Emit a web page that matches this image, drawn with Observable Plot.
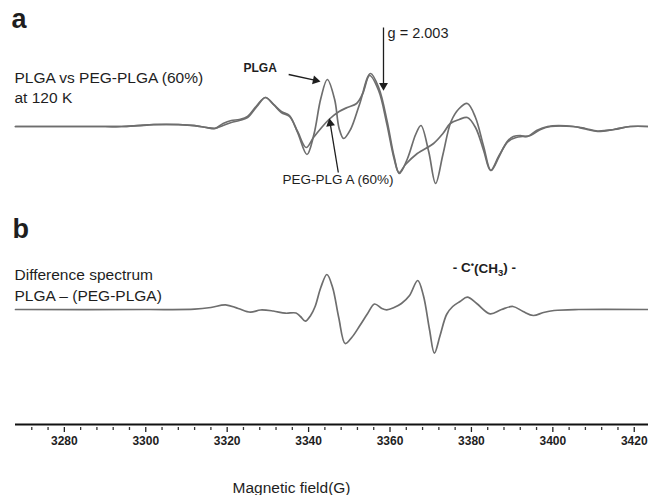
<!DOCTYPE html>
<html><head><meta charset="utf-8">
<script src="https://cdn.jsdelivr.net/npm/d3@7"></script>
<script src="https://cdn.jsdelivr.net/npm/@observablehq/plot@0.6"></script>
<style>
html,body{margin:0;padding:0;background:#fff;}
#chart{width:648px;height:495px;overflow:hidden;}
#chart svg{font-family:"Liberation Sans", Arial, Helvetica, sans-serif;}
</style></head><body><div id="chart"></div>
<script>
// ---- data (magnetic field in G, signal in arbitrary units) ----
const sharedLowField = [3268, 3290, 3294, 3298, 3302, 3308, 3312, 3315, 3317];
const sharedLowSignal = [0, 0, 0, 0.8, 1.8, 1.8, 0.8, -1, -1.8];

const plgaField = [3319, 3321, 3323, 3325, 3327.3, 3329.4, 3331.4, 3333.3, 3335.3, 3337.3, 3339.6, 3341.3, 3343, 3344.6, 3346.4, 3347.5, 3348.6, 3350.3, 3352.5, 3355.2, 3357.3, 3359.3, 3361, 3362.3, 3364.3, 3366.3, 3367.6, 3369.5, 3371.2, 3373, 3375, 3377, 3379, 3381, 3383, 3384.8, 3386.8, 3388.8, 3390.3, 3392, 3393.8, 3396, 3398.7, 3405, 3408, 3411, 3415, 3419, 3423.5];
const plgaSignal = [1, 4, 6, 9, 20, 29, 22, 15, 11, -6, -28, -8, 28, 47, 27, -2, -12, -3, 22, 53, 38, 5, -30, -47, -32, -8, 1, -25, -57, -28, 5, 18, 23, 9, -20, -44, -30, -15, -10, -9, -10, -4, 0, 0, -2.5, -5, -3, 0, 0];

const pegField = [3319, 3321, 3323, 3325, 3327.3, 3329.4, 3331.4, 3333.3, 3335.3, 3337.3, 3339.4, 3341.2, 3343, 3345, 3347.5, 3349.5, 3351.8, 3353.3, 3355, 3357.2, 3359.2, 3361, 3362.2, 3363.8, 3366.7, 3370.7, 3373, 3374.8, 3377, 3379, 3381, 3383, 3384.7, 3386.8, 3389, 3391, 3392.5, 3394.5, 3397, 3399.5, 3405, 3408, 3411, 3415, 3419, 3423.5];
const pegSignal = [3, 6, 7, 10, 21, 29, 22, 14, 10, -5, -21, -11, -2, 7, 15, 19, 23, 33, 51, 36, 3, -32, -46, -38, -27, -17, -7, 3, 7, 9, -1, -24, -44, -29, -15, -11, -10, -9, -3, 0, 0, -2, -4.5, -3, 0, 0];

const diffField = [3268, 3300, 3312, 3316, 3319.6, 3322.7, 3325.7, 3328.2, 3331.3, 3334.3, 3336.9, 3338, 3339.2, 3340.5, 3341.6, 3343, 3344.5, 3345.9, 3347.4, 3349, 3350.6, 3352.6, 3354.5, 3356.2, 3358, 3359.2, 3361, 3362.8, 3364.8, 3366.8, 3368.2, 3369.7, 3370.9, 3372.3, 3373.9, 3375.4, 3377.2, 3379, 3381.3, 3384.6, 3387.4, 3390.2, 3392.7, 3395.2, 3397.7, 3400.3, 3406.4, 3423.5];
const diffSignal = [0, 0, 0.3, 2, 4.7, 1, -2.7, -0.5, -1.5, -3.7, -3.5, -7, -11.7, -6, 3, 22, 35, 22, -8, -34, -28, -16, -4, 5.5, 1, -0.3, 2, 6, 14, 29, 14, -20, -43.7, -26, -5, 3, 8, 12.3, 6, -4.3, 0, 3, -2, -6, -3, -1, 0, 0];

const majorTicks = [3280, 3300, 3320, 3340, 3360, 3380, 3400, 3420];
const minorTicks = d3.range(3272, 3424, 4).filter(t => !majorTicks.includes(t));

// ---- layout helpers ----
const W = 648, H = 495;
const xDomain = [3268, 3423.5];
const yDomain = [-115, 309];
const offsetA = 183; // vertical offset of panel a baseline (signal units)
const marginLeft = 15, marginBottom = 71;

const toRows = (f, s, off, series) => f.map((x, i) => ({x, y: s[i] + off, series}));
const plgaRows = toRows(sharedLowField.concat(plgaField), sharedLowSignal.concat(plgaSignal), offsetA, "PLGA");
const pegRows = toRows(sharedLowField.concat(pegField), sharedLowSignal.concat(pegSignal).map((v, i) => i < sharedLowSignal.length ? v * 1.1 : v), offsetA, "PEG");
const diffRows = toRows(diffField, diffSignal, 0, "diff");

// arrows (tail -> tip) in data units
const arrows = [
  {x1: 3358.4, y1: 99 + offsetA, x2: 3358.4, y2: 36 + offsetA},
  {x1: 3335.1, y1: 52 + offsetA, x2: 3342.9, y2: 45 + offsetA},
  {x1: 3347.3, y1: -46 + offsetA, x2: 3345.1, y2: 8 + offsetA}
];
const xs = d3.scaleLinear(xDomain, [marginLeft, W]);
const ys = d3.scaleLinear(yDomain, [H - marginBottom, 0]);
const heads = arrows.map(a => {
  const px1 = xs(a.x1), py1 = ys(a.y1), px2 = xs(a.x2), py2 = ys(a.y2);
  const len = Math.hypot(px2 - px1, py2 - py1);
  const ux = (px2 - px1) / len, uy = (py2 - py1) / len;
  const c = 5; // triangle centroid distance from tip (px)
  return {
    x: xs.invert(px2 - ux * c), y: ys.invert(py2 - uy * c),
    bx: xs.invert(px2 - ux * 6), by: ys.invert(py2 - uy * 6),
    rotate: Math.atan2(ux, -uy) * 180 / Math.PI
  };
});
const shafts = arrows.map((a, i) => ({x1: a.x1, y1: a.y1, x2: heads[i].bx, y2: heads[i].by}));

const dataLabels = [
  {x: 3359.4, y: 99 + offsetA, text: "g = 2.003", size: 14.5, weight: "normal"},
  {x: 3324.0, y: 58 + offsetA, text: "PLGA", size: 12, weight: "bold"},
  {x: 3333.6, y: -53 + offsetA, text: "PEG-PLG A (60%)", size: 13.5, weight: "normal"},
  {x: 3375.4, y: 42, text: "- C\u2022(CH3) -", size: 13.5, weight: "bold"}
];

const ink = "#1e1e1e";
const lineColor = "#6e6e6e";

const textAt = (t, opts) => Plot.text([t], {text: d => d, frameAnchor: "top-left", textAnchor: "start", lineAnchor: "top", fill: ink, ...opts});

const chart = Plot.plot({
  width: W, height: H,
  marginLeft, marginRight: 0, marginTop: 0, marginBottom,
  x: {domain: xDomain},
  y: {domain: yDomain, axis: null},
  marks: [
    Plot.line(pegRows, {x: "x", y: "y", stroke: lineColor, strokeWidth: 1.7, curve: "catmull-rom"}),
    Plot.line(plgaRows, {x: "x", y: "y", stroke: lineColor, strokeWidth: 1.7, curve: "catmull-rom"}),
    Plot.line(diffRows, {x: "x", y: "y", stroke: lineColor, strokeWidth: 1.7, curve: "catmull-rom"}),
    Plot.ruleY([yDomain[0]], {stroke: "#111", strokeWidth: 2}),
    Plot.axisX(minorTicks, {tickSize: 3, dy: 3, tickFormat: () => "", stroke: "#333", strokeWidth: 1.3}),
    Plot.axisX(majorTicks, {tickSize: 5, dy: 3, tickPadding: 4, fontSize: 12, fontWeight: "bold", fill: ink, stroke: "#222", strokeWidth: 1.3, tickFormat: d => String(d), label: null}),
    Plot.link(shafts, {x1: "x1", y1: "y1", x2: "x2", y2: "y2", stroke: ink, strokeWidth: 1.3}),
    Plot.dot(heads, {x: "x", y: "y", symbol: "triangle", r: 3.3, fill: ink, stroke: "none", rotate: "rotate"}),
    ...dataLabels.map(l => Plot.text([l], {x: "x", y: "y", text: "text", textAnchor: "start", lineAnchor: l.text.startsWith("g") ? "top" : "middle", fontSize: l.size, fontWeight: l.weight, fill: ink})),
    textAt("a", {dx: -4, dy: 8, fontSize: 27, fontWeight: "bold"}),
    textAt("PLGA vs PEG-PLGA (60%)\nat 120 K", {dx: -1, dy: 69, fontSize: 15.5, lineHeight: 1.25}),
    textAt("b", {dx: -3, dy: 218, fontSize: 27, fontWeight: "bold"}),
    textAt("Difference spectrum\nPLGA \u2013 (PEG-PLGA)", {dx: -1, dy: 264, fontSize: 15.5, lineHeight: 1.38}),
    textAt("Magnetic field(G)", {dx: 217, dy: 481, fontSize: 15.5})
  ]
});
document.getElementById("chart").appendChild(chart);

// typeset the radical label with a superscript dot and subscript 3 (still real text)
d3.select(chart).selectAll("text").filter(function() { return this.textContent === "- C\u2022(CH3) -"; })
  .each(function() {
    const t = d3.select(this);
    t.text(null);
    t.append("tspan").text("- C");
    t.append("tspan").attr("dy", "-0.4em").attr("font-size", "0.7em").text("\u2022");
    t.append("tspan").attr("dy", "0.4em").text("(CH");
    t.append("tspan").attr("dy", "0.3em").attr("font-size", "0.7em").text("3");
    t.append("tspan").attr("dy", "-0.3em").text(") -");
  });
</script></body></html>
